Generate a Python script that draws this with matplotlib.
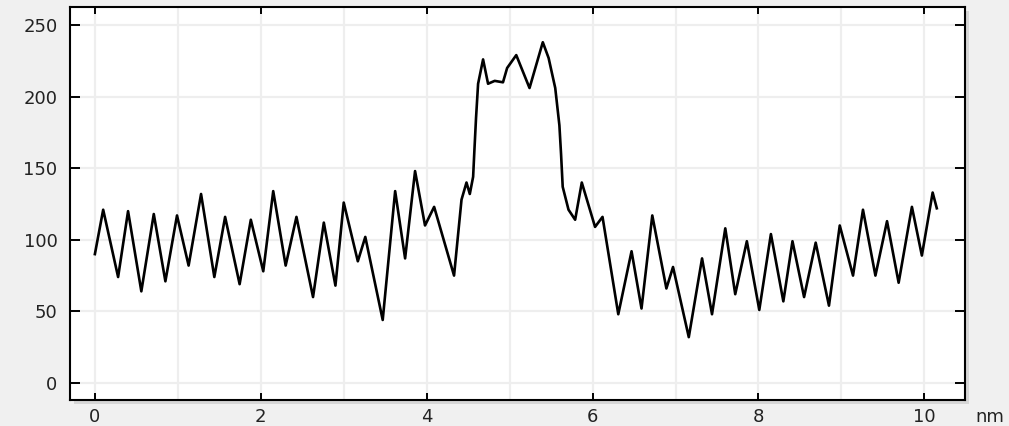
import matplotlib.pyplot as plt
from matplotlib.patches import Rectangle

# line profile (extrema and a few shoulder points)
x_nm = [0.0, 0.10, 0.28, 0.40, 0.56, 0.71, 0.85, 0.99, 1.13, 1.28,
        1.44, 1.57, 1.745, 1.88, 2.03, 2.15, 2.30, 2.43, 2.63, 2.76,
        2.90, 3.00, 3.17, 3.26, 3.47, 3.62, 3.74, 3.86, 3.98, 4.09,
        4.33, 4.42, 4.48, 4.52, 4.56, 4.575, 4.595, 4.62, 4.68, 4.74,
        4.82, 4.92, 4.97, 5.08, 5.24, 5.40, 5.47, 5.55, 5.60, 5.62,
        5.64, 5.71, 5.79, 5.87, 6.03, 6.12, 6.31, 6.47, 6.59, 6.72,
        6.89, 6.97, 7.16, 7.32, 7.44, 7.60, 7.72, 7.86, 8.01, 8.15,
        8.30, 8.41, 8.55, 8.69, 8.85, 8.98, 9.14, 9.26, 9.41, 9.55,
        9.69, 9.85, 9.97, 10.10, 10.15]
height = [90, 121, 74, 120, 64, 118, 71, 117, 82, 132,
          74, 116, 69, 114, 78, 134, 82, 116, 60, 112,
          68, 126, 85, 102, 44, 134, 87, 148, 110, 123,
          75, 128, 140, 132, 144, 162, 185, 209, 226, 209,
          211, 210, 220, 229, 206, 238, 227, 206, 180, 160,
          137, 121, 114, 140, 109, 116, 48, 92, 52, 117,
          66, 81, 32, 87, 48, 108, 62, 99, 51, 104,
          57, 99, 60, 98, 54, 110, 75, 121, 75, 113,
          70, 123, 89, 133, 122]

x_ticks = [0, 2, 4, 6, 8, 10]
y_ticks = [0, 50, 100, 150, 200, 250]

fig = plt.figure(figsize=(10.09, 4.26), dpi=100, facecolor='#f0f0f0')
left, bottom, width, hgt = 70/1009, 26/426, 895/1009, 393/426

# drop shadow behind the plot box
fig.patches.append(Rectangle((left + 4/1009, bottom - 4/426), width, hgt,
                             transform=fig.transFigure, facecolor='#d6d6d6',
                             edgecolor='none', zorder=-1))

ax = fig.add_axes([left, bottom, width, hgt])
ax.set_facecolor('white')
ax.set_xlim(-0.30, 10.49)
ax.set_ylim(-11.9, 262.6)

for g in range(0, 11):
    ax.axvline(g, color='#eeeeee', lw=1.6, zorder=0)
for g in y_ticks:
    ax.axhline(g, color='#eeeeee', lw=1.6, zorder=0)

ax.plot(x_nm, height, color='black', lw=1.9, zorder=3)

ax.set_xticks(x_ticks)
ax.set_yticks(y_ticks)
ax.tick_params(axis='both', direction='in', width=1.4, labelsize=13,
               labelcolor='#222222', top=True, right=True)
ax.tick_params(axis='y', length=7.5, pad=9)
ax.tick_params(axis='x', length=5, pad=6)
for s in ax.spines.values():
    s.set_linewidth(1.5)
    s.set_color('black')

fig.text(990/1009, 1 - 417/426, 'nm', ha='center', va='center',
         fontsize=13, color='#222222')

fig.savefig('out.png', dpi=100, facecolor=fig.get_facecolor())
